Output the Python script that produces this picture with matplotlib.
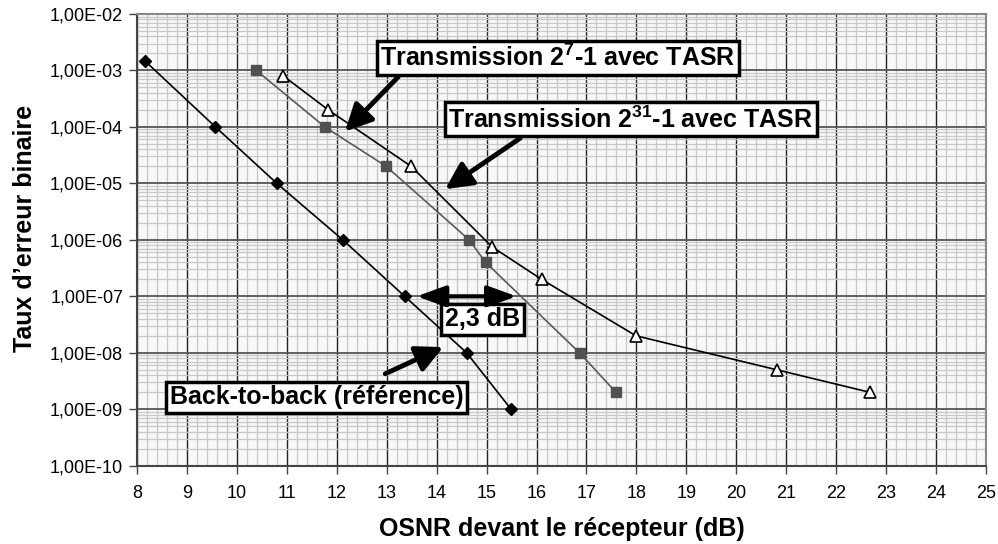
import numpy as np
import matplotlib
matplotlib.use('Agg')
import matplotlib.pyplot as plt
from matplotlib.ticker import FixedLocator, LogLocator, MultipleLocator, FuncFormatter

plt.rcParams['font.family'] = ['Liberation Sans', 'DejaVu Sans']
plt.rcParams['mathtext.fontset'] = 'custom'
plt.rcParams['mathtext.rm'] = 'Liberation Sans:bold'
plt.rcParams['mathtext.it'] = 'Liberation Sans:bold'
plt.rcParams['mathtext.bf'] = 'Liberation Sans:bold'

# mesures TEB en fonction de l'OSNR
b2b_osnr = [8.15, 9.57, 10.8, 12.12, 13.36, 14.6, 15.49]
b2b_ber = [1.5e-3, 1e-4, 1e-5, 1e-6, 1e-7, 1e-8, 1e-9]

prbs7_osnr = [10.39, 11.76, 12.99, 14.65, 14.98, 16.86, 17.59]
prbs7_ber = [1e-3, 1e-4, 2e-5, 1e-6, 4e-7, 1e-8, 2e-9]

prbs31_osnr = [10.93, 11.83, 13.49, 15.11, 16.1, 17.99, 20.81, 22.67]
prbs31_ber = [8e-4, 2e-4, 2e-5, 7.5e-7, 2e-7, 2e-8, 5e-9, 2e-9]

x_ticks = list(range(8, 26))
y_exps = list(range(-10, -1))

fig = plt.figure(figsize=(9.98, 5.44), dpi=100)
ax = fig.add_axes([0.1373, 0.1439, 0.8507, 0.8304])
ax.set_facecolor('#f8f8f8')

ax.set_yscale('log')
ax.set_xlim(8, 25)
ax.set_ylim(1e-10, 1e-2)

# quadrillage
ax.xaxis.set_major_locator(FixedLocator(x_ticks))
ax.xaxis.set_minor_locator(MultipleLocator(0.2))
ax.yaxis.set_major_locator(FixedLocator([10.0 ** e for e in y_exps]))
ax.yaxis.set_minor_locator(LogLocator(base=10, subs=np.arange(2, 10)))
ax.grid(which='minor', color='#c8c8c8', lw=0.9)
ax.grid(which='major', axis='x', color='#222222', lw=1.0)
ax.grid(which='major', axis='y', color='#555555', lw=1.3)
ax.set_axisbelow(True)

ax.yaxis.set_major_formatter(FuncFormatter(lambda v, p: '1,00E-%02d' % round(-np.log10(v))))
ax.tick_params(which='major', direction='out', length=6, width=1.0, color='#444444', labelsize=13, pad=4)
ax.tick_params(which='minor', length=0)
ax.tick_params(axis='x', pad=8)

for s in ['top', 'right']:
    ax.spines[s].set_color('#888888')
    ax.spines[s].set_linewidth(1.5)
for s in ['left', 'bottom']:
    ax.spines[s].set_color('#444444')
    ax.spines[s].set_linewidth(1.5)

ax.plot(b2b_osnr, b2b_ber, color='black', lw=1.2, marker='D', ms=6, mfc='black', mec='black')
ax.plot(prbs7_osnr, prbs7_ber, color='#5a5a5a', lw=1.2, marker='s', ms=7, mfc='#505050', mec='#505050')
ax.plot(prbs31_osnr, prbs31_ber, color='black', lw=1.2, marker='^', ms=9, mfc='white', mec='black', mew=1.2)

ax.set_xlabel('OSNR devant le récepteur (dB)', fontsize=18, fontweight='bold', va='center')
ax.set_ylabel('Taux d’erreur binaire', fontsize=18, fontweight='bold', va='center')
ax.xaxis.set_label_coords(0.5, -63 / 452)
ax.yaxis.set_label_coords(-112 / 850, 0.526)

box = dict(boxstyle='square,pad=0.15', fc='white', ec='black', lw=2.5)
arrow = dict(arrowstyle='-|>,head_length=0.9,head_width=0.45', color='black', lw=3.5, mutation_scale=18, shrinkA=0, shrinkB=0)

ax.text(16.43, 1.66e-3, 'Transmission 2$^{7}$-1 avec TASR', fontsize=18, fontweight='bold', ha='center', va='center', bbox=box)
ax.annotate('', xy=(12.165, 8.3e-5), xytext=(13.23, 7.7e-4), arrowprops=arrow)

ax.text(17.89, 1.36e-4, 'Transmission 2$^{31}$-1 avec TASR', fontsize=18, fontweight='bold', ha='center', va='center', bbox=box)
ax.annotate('', xy=(14.17, 7.9e-6), xytext=(15.67, 6.3e-5), arrowprops=arrow)

ax.text(14.92, 3.9e-8, '2,3 dB', fontsize=18, fontweight='bold', ha='center', va='center', bbox=box)
ax.annotate('', xy=(13.6, 1e-7), xytext=(15.6, 1e-7),
            arrowprops=dict(arrowstyle='<|-|>,head_length=1.1,head_width=0.4', color='black', lw=3, mutation_scale=16, shrinkA=0, shrinkB=0))

ax.text(11.6, 1.63e-9, 'Back-to-back (référence)', fontsize=18, fontweight='bold', ha='center', va='center', bbox=box)
ax.annotate('', xy=(14.13, 1.26e-8), xytext=(12.97, 4.25e-9), arrowprops=arrow)

fig.savefig('out.png', dpi=100)
